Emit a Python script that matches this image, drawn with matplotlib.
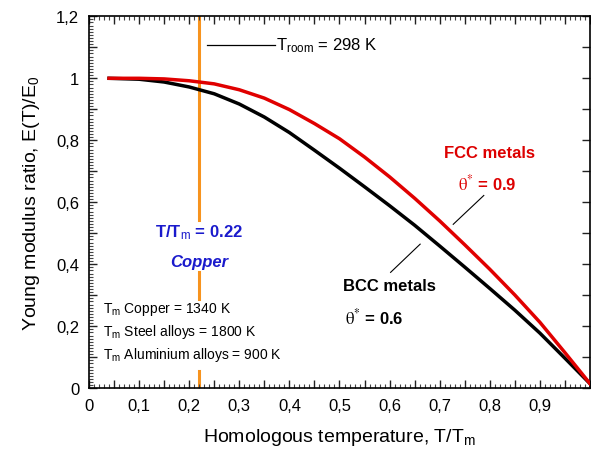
import numpy as np
import matplotlib
matplotlib.use('Agg')
import matplotlib.pyplot as plt
from matplotlib.ticker import MultipleLocator, FuncFormatter

plt.rcParams['font.family'] = ['Liberation Sans', 'DejaVu Sans']
plt.rcParams['mathtext.fontset'] = 'custom'
plt.rcParams['mathtext.rm'] = 'Liberation Sans'
plt.rcParams['mathtext.it'] = 'Liberation Sans:italic'
plt.rcParams['mathtext.bf'] = 'Liberation Sans:bold'

# E(T)/E0 against homologous temperature T/Tm
t_fcc = [0.04, 0.10, 0.15, 0.20, 0.25, 0.30, 0.35, 0.40, 0.45, 0.50, 0.55,
         0.60, 0.65, 0.70, 0.75, 0.80, 0.85, 0.90, 0.95, 1.0]
e_fcc = [1.000, 1.000, 0.998, 0.992, 0.982, 0.963, 0.936, 0.899, 0.854, 0.805, 0.746,
         0.682, 0.613, 0.540, 0.463, 0.384, 0.301, 0.213, 0.115, 0.015]

t_bcc = [0.04, 0.10, 0.15, 0.20, 0.25, 0.30, 0.35, 0.40, 0.45, 0.50, 0.55,
         0.60, 0.65, 0.70, 0.75, 0.80, 0.85, 0.90, 0.95, 1.0]
e_bcc = [1.000, 0.997, 0.988, 0.972, 0.950, 0.917, 0.875, 0.825, 0.768, 0.710, 0.650,
         0.589, 0.526, 0.459, 0.391, 0.322, 0.252, 0.178, 0.097, 0.015]

t_copper = 0.22
tm_lines = ['T$_\\mathrm{m}$ Copper = 1340 K',
            'T$_\\mathrm{m}$ Steel alloys = 1800 K',
            'T$_\\mathrm{m}$ Aluminium alloys = 900 K']

fig = plt.figure(figsize=(5.91, 4.60), dpi=100)
ax = fig.add_axes([0.1506, 0.1537, 0.8477, 0.8087])

orange = '#F7931E'
# vertical marker at T/Tm of copper, broken where the labels sit
ax.plot([t_copper, t_copper], [0.543, 1.2], color=orange, lw=2.2, zorder=1)
ax.plot([t_copper, t_copper], [0.288, 0.374], color=orange, lw=2.2, zorder=1)
ax.plot([t_copper, t_copper], [0.0, 0.057], color=orange, lw=2.2, zorder=1)

ax.plot(t_bcc, e_bcc, color='black', lw=2.5, zorder=3, solid_joinstyle='round')
ax.plot(t_fcc, e_fcc, color='#E00000', lw=2.5, zorder=3, solid_joinstyle='round')

ax.set_xlim(0, 1.0)
ax.set_ylim(0, 1.2)

ax.xaxis.set_major_locator(MultipleLocator(0.05))
ax.xaxis.set_minor_locator(MultipleLocator(0.01))
ax.xaxis.set_major_formatter(FuncFormatter(
    lambda v, p: ('%g' % round(v, 3)).replace('.', ',') if abs(v * 10 - round(v * 10)) < 1e-6 and v < 0.99 else ''))
ax.yaxis.set_major_locator(MultipleLocator(0.1))
ax.yaxis.set_minor_locator(MultipleLocator(0.01))
ax.yaxis.set_major_formatter(FuncFormatter(
    lambda v, p: ('%g' % round(v, 3)).replace('.', ',') if abs(v * 5 - round(v * 5)) < 1e-6 else ''))

ax.tick_params(which='major', direction='in', length=6, width=1, top=True, right=True,
               labelsize=12, pad=7, color='#222222')
ax.tick_params(which='minor', direction='in', length=3, width=0.8, top=True, right=True,
               color='#444444')
ax.tick_params(axis='y', which='minor', right=False)
for s in ax.spines.values():
    s.set_linewidth(1.2)

ax.set_xlabel('Homologous temperature, T/T$_\\mathrm{m}$', fontsize=14, labelpad=9)
ax.set_ylabel('Young modulus ratio, E(T)/E$_\\mathrm{0}$', fontsize=14, labelpad=10)

# room temperature note
ax.plot([0.236, 0.371], [1.107, 1.107], color='black', lw=0.9)
ax.text(0.374, 1.107, 'T$_\\mathrm{room}$ = 298 K', fontsize=12, va='center', ha='left')

blue = '#1A1ACC'
ax.text(t_copper, 0.505, 'T/T$_\\mathrm{m}$ = 0.22', color=blue, fontsize=12,
        fontweight='bold', ha='center', va='center')
ax.text(t_copper, 0.41, 'Copper', color=blue, fontsize=12, fontweight='bold',
        style='italic', ha='center', va='center')

for i, s in enumerate(tm_lines):
    ax.text(0.028, 0.258 - i * 0.074, s, fontsize=10, ha='left', va='center')

red = '#DD0000'
ax.text(0.80, 0.762, 'FCC metals', color=red, fontsize=12, fontweight='bold',
        ha='center', va='center')
ax.text(0.795, 0.665, '$\\mathrm{\\theta}^{*}$ = 0.9', color=red, fontsize=12,
        fontweight='bold', ha='center', va='center', math_fontfamily='stix')
ax.plot([0.727, 0.788], [0.529, 0.622], color='black', lw=0.8)

ax.text(0.60, 0.332, 'BCC metals', color='black', fontsize=12, fontweight='bold',
        ha='center', va='center')
ax.text(0.57, 0.232, '$\\mathrm{\\theta}^{*}$ = 0.6', color='black', fontsize=12,
        fontweight='bold', ha='center', va='center', math_fontfamily='stix')
ax.plot([0.602, 0.661], [0.374, 0.465], color='black', lw=0.8)

fig.savefig('out.png', dpi=100)
